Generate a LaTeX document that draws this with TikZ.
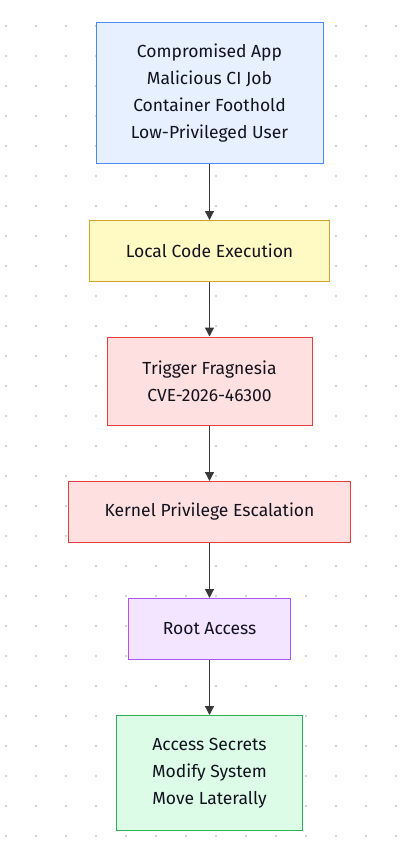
\documentclass[tikz,border=0pt]{standalone}
\usepackage{fontspec}
\setmainfont{Fira Sans}
\usetikzlibrary{arrows.meta}
\definecolor{blueF}{HTML}{E6F0FF}\definecolor{blueD}{HTML}{4C8BF5}
\definecolor{yelF}{HTML}{FFF9C4}\definecolor{yelD}{HTML}{D4A12C}
\definecolor{redF}{HTML}{FFE0E0}\definecolor{redD}{HTML}{E53E3E}
\definecolor{purF}{HTML}{F3E5FF}\definecolor{purD}{HTML}{A855F7}
\definecolor{grnF}{HTML}{DCFCE7}\definecolor{grnD}{HTML}{2EB05A}
\definecolor{txt}{HTML}{12121F}
\begin{document}
\begin{tikzpicture}[x=1pt,y=-1pt,>={Triangle[length=9pt,width=9pt]},
  box/.style={draw,line width=1pt,rectangle,align=center,inner sep=0pt,
    text=txt,font=\fontsize{17.5}{27}\selectfont},
  flow/.style={->,line width=1.2pt,draw=black!78,fill=black!78}]
                  \useasboundingbox (0,0) rectangle (410,863);
                  \fill[white] (0,0) rectangle (410,863);
                  \foreach \i in {0,...,13}
                    \foreach \j in {0,...,27}
                      \fill[black!18] (6+30*\i,26+30*\j) circle (1.3pt);
                  \node[box,fill=blueF,draw=blueD,minimum width=227pt,minimum height=141pt] (app) at (209.5,93){Compromised App\\Malicious CI Job\\Container Foothold\\Low-Privileged User};
                  \node[box,fill=yelF,draw=yelD,minimum width=240pt,minimum height=61pt] (exec) at (209.5,251){Local Code Execution};
                  \node[box,fill=redF,draw=redD,minimum width=205pt,minimum height=88pt] (trig) at (209.5,381){Trigger Fragnesia\\CVE-2026-46300};
                  \node[box,fill=redF,draw=redD,minimum width=282pt,minimum height=61pt] (esc) at (209.5,512){Kernel Privilege Escalation};
                  \node[box,fill=purF,draw=purD,minimum width=162pt,minimum height=61pt] (root) at (209.5,629){Root Access};
                  \node[box,fill=grnF,draw=grnD,minimum width=186pt,minimum height=115pt] (act) at (209.5,773){Access Secrets\\Modify System\\Move Laterally};
                  \draw[flow](app)--(exec);
                  \draw[flow](exec)--(trig);
                  \draw[flow](trig)--(esc);
                  \draw[flow](esc)--(root);
                  \draw[flow](root)--(act);
              \end{tikzpicture}
\end{document}
